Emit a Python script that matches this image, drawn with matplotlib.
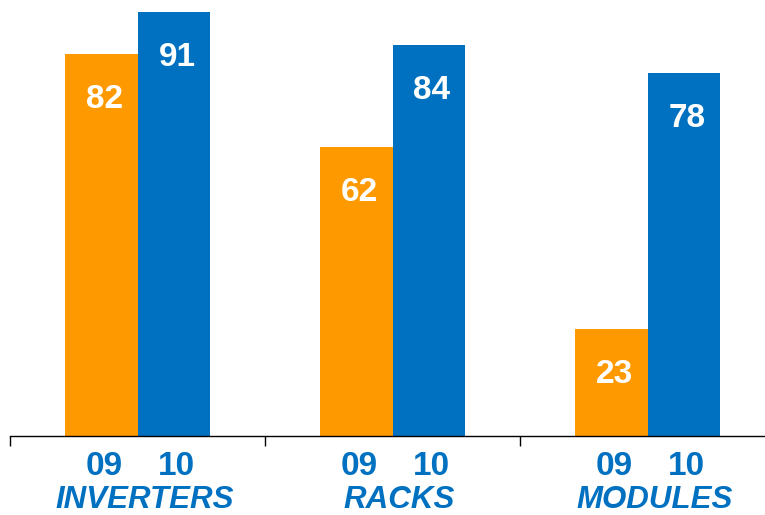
import numpy as np
import matplotlib.pyplot as plt

# data
categories = ["INVERTERS", "RACKS", "MODULES"]
years = ["09", "10"]
values_09 = [82, 62, 23]
values_10 = [91, 84, 78]

orange = "#FF9900"
blue = "#0070C0"

plt.rcParams["font.family"] = ["Liberation Sans", "DejaVu Sans"]

fig = plt.figure(figsize=(7.65, 5.15), dpi=100)
ax = fig.add_axes([10 / 765, 79 / 515, 1.0, 436 / 515])

x = np.arange(len(categories))
w = 0.284
bars_09 = ax.bar(x - w / 2, values_09, width=w, color=orange)
bars_10 = ax.bar(x + w / 2, values_10, width=w, color=blue)

# value labels inside the bars
for bars, vals in [(bars_09, values_09), (bars_10, values_10)]:
    for b, v in zip(bars, vals):
        ax.annotate(str(v), xy=(b.get_x() + b.get_width() / 2, v),
                    xytext=(2.3, -39), textcoords="offset points",
                    ha="center", va="baseline", color="white",
                    fontsize=24, fontweight="bold")

# year labels and category names under the axis
for i, cat in enumerate(categories):
    for xx, yr in [(i - w / 2, years[0]), (i + w / 2, years[1])]:
        ax.annotate(yr, xy=(xx, 0), xycoords=("data", "axes fraction"),
                    xytext=(2.3, -28), textcoords="offset points",
                    ha="center", va="baseline", color=blue,
                    fontsize=24, fontweight="bold", annotation_clip=False)
    ax.annotate(cat, xy=(i, 0), xycoords=("data", "axes fraction"),
                xytext=(5, -52), textcoords="offset points",
                ha="center", va="baseline", color=blue,
                fontsize=22.5, fontweight="bold", style="italic",
                annotation_clip=False)

ax.set_xlim(-0.5, 2.5)
ax.set_ylim(0, 93.6)
ax.set_xticks([-0.5, 0.5, 1.5])
ax.set_xticklabels([])
ax.tick_params(axis="x", direction="out", length=7.2, width=1, color="black")
ax.set_yticks([])
for s in ["top", "right", "left"]:
    ax.spines[s].set_visible(False)
ax.spines["bottom"].set_linewidth(1)

plt.savefig("out.png", dpi=100)
plt.close()
